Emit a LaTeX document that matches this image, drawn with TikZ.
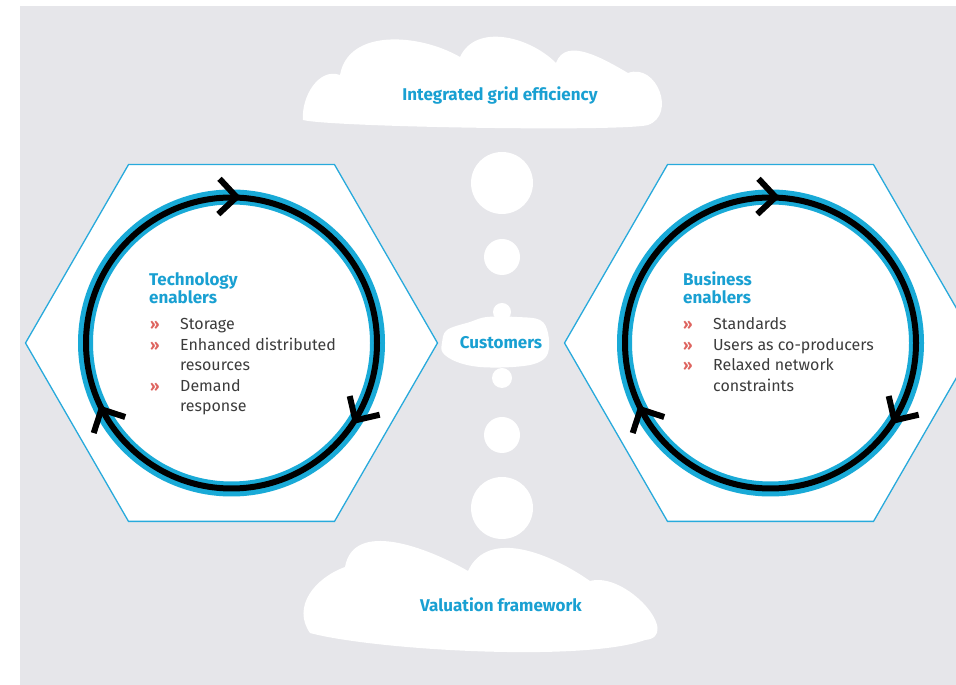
\documentclass[tikz,border=0pt]{standalone}
\usepackage{fontspec}
\setmainfont{Fira Sans}
\usetikzlibrary{calc}
\definecolor{bgc}{RGB}{230,230,234}
\definecolor{hexc}{RGB}{40,170,220}
\definecolor{ringc}{RGB}{25,170,215}
\definecolor{headc}{RGB}{25,160,210}
\definecolor{bulc}{RGB}{222,100,95}
\definecolor{txtc}{RGB}{60,60,60}
\tikzset{
  hexa/.style={draw=hexc, line width=1.3pt, fill=white, line join=miter},
  bluering/.style={draw=ringc, line width=15pt},
  blackring/.style={draw=black, line width=6pt},
  chevst/.style={draw=black, line width=6pt, line join=miter, line cap=butt},
  cloudst/.style={fill=white, draw=none},
  headtxt/.style={inner sep=0pt, text=headc, font=\fontsize{17}{19}\selectfont\bfseries},
  itemtxt/.style={inner sep=0pt, anchor=base west, text=txtc, font=\fontsize{16}{19}\selectfont},
  bultxt/.style={inner sep=0pt, anchor=base west, text=bulc, font=\fontsize{15}{17}\selectfont\bfseries},
  lbl/.style={inner sep=0pt, text=headc, font=\fontsize{17}{19}\selectfont\bfseries},
}
\begin{document}
\begin{tikzpicture}[x=1pt,y=1pt]
\useasboundingbox (0,0) rectangle (956,685);
\clip (0,0) rectangle (956,685);
\fill[bgc] (20,0) rectangle (956,679);

% centres
\coordinate (L) at (231.5,342);
\coordinate (R) at (770.5,342);

% hexagons with rings
\foreach \c in {L,R}{
  \draw[hexa] ($(\c)+(0:206)$) -- ($(\c)+(60:206)$) -- ($(\c)+(120:206)$) -- ($(\c)+(180:206)$) -- ($(\c)+(240:206)$) -- ($(\c)+(300:206)$) -- cycle;
  \draw[bluering] (\c) circle (146);
  \draw[blackring] (\c) circle (145.5);
  \foreach \a in {88,-32,207}{
    \draw[chevst] ($(\c)+(\a:146)+({\a+45}:25)$) -- ($(\c)+(\a:146)$) -- ($(\c)+(\a:146)+({\a+135}:25)$);
  }
}

% top cloud
\fill[cloudst] (303,565) to[out=95,in=160] (340,610)
  to[out=80,in=150] (460,628)
  to[out=65,in=135] (556,622)
  to[out=70,in=150] (628,612)
  to[out=20,in=20,looseness=1.4] (648,560)
  to[out=195,in=-15,looseness=0.2] cycle;

% bottom cloud
\fill[cloudst] (310,52) to[out=125,in=200,looseness=1.1] (345,118)
  to[out=80,in=150] (468,114)
  to[out=65,in=145] (590,104)
  to[out=15,in=5,looseness=1.2] (645,45)
  to[out=200,in=-15,looseness=0.5] cycle;

% customers cloud
\fill[cloudst] plot[smooth cycle, tension=0.6] coordinates {
(442,342) (447,355) (470,363) (487,368) (517,368) (540,365) (548,352) (548,332)
(537,322) (513,318) (480,318) (457,323) (443,332)};
\fill[cloudst] (502,373) circle (9);
\fill[cloudst] (502,307) circle (10);

% bubbles
\fill[cloudst] (502,502) circle (31);
\fill[cloudst] (502,428) circle (18);
\fill[cloudst] (502,250) circle (18);
\fill[cloudst] (502,177) circle (31);

% cloud labels
\node[lbl] (top) at (500,589) {Integrated grid efficiency};
\node[lbl] (cust) at (501,342) {Customers};
\node[lbl] (bot) at (501,80) {Valuation framework};

% left text
\node[headtxt, anchor=base west] (th1) at (149,399) {Technology};
\node[headtxt, anchor=base west] (th2) at (149,381) {enablers};
\node[bultxt] (lb1) at (150,355) {»};
\node[itemtxt] (li1) at (180,355) {Storage};
\node[bultxt] (lb2) at (150,334) {»};
\node[itemtxt] (li2) at (180,334) {Enhanced distributed};
\node[itemtxt] (li2b) at (180,314) {resources};
\node[bultxt] (lb3) at (150,293) {»};
\node[itemtxt] (li3) at (180,293) {Demand};
\node[itemtxt] (li3b) at (180,273) {response};

% right text
\node[headtxt, anchor=base west] (bh1) at (683,399) {Business};
\node[headtxt, anchor=base west] (bh2) at (683,381) {enablers};
\node[bultxt] (rb1) at (683,355) {»};
\node[itemtxt] (ri1) at (713,355) {Standards};
\node[bultxt] (rb2) at (683,334) {»};
\node[itemtxt] (ri2) at (713,334) {Users as co-producers};
\node[bultxt] (rb3) at (683,314) {»};
\node[itemtxt] (ri3) at (713,314) {Relaxed network};
\node[itemtxt] (ri3b) at (713,293) {constraints};
\end{tikzpicture}
\end{document}
